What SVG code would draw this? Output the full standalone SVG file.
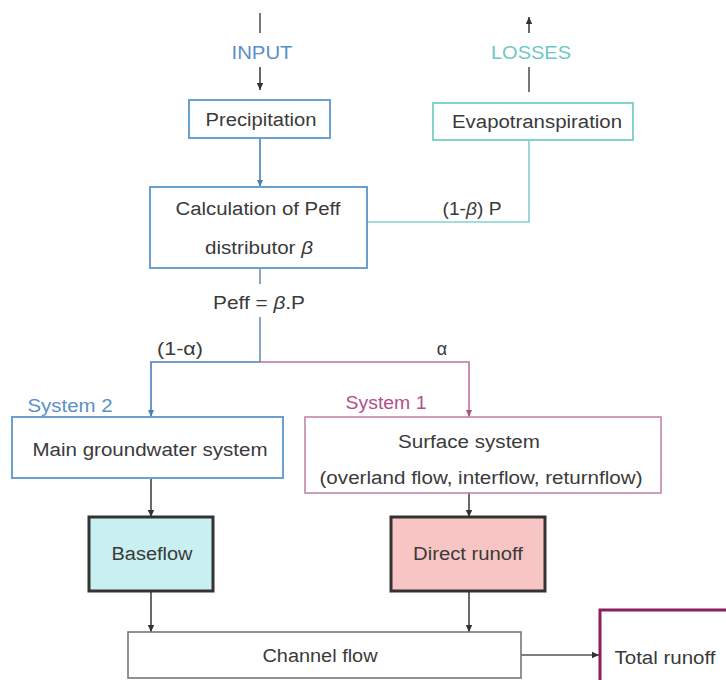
<svg xmlns="http://www.w3.org/2000/svg" width="726" height="680" viewBox="0 0 726 680">
<style>
text{font-family:"Liberation Sans",Arial,sans-serif;font-size:18px;fill:#3a3a3a;text-anchor:middle}
.box{fill:#fff}
.blue{stroke:#6a9fcf;stroke-width:2}
.teal{stroke:#84d2ca;stroke-width:2}
.pink{stroke:#c486aa;stroke-width:1.6}
.thick{stroke:#333;stroke-width:3}
.c{fill:none;stroke-width:1.6}
</style>
<defs>
<marker id="ad" markerUnits="userSpaceOnUse" markerWidth="8" markerHeight="8" refX="7" refY="4" orient="auto"><path d="M0,0.8 L7,4 L0,7.2 Z" fill="#333"/></marker>
<marker id="ab" markerUnits="userSpaceOnUse" markerWidth="8" markerHeight="8" refX="7" refY="4" orient="auto"><path d="M0,1 L7,4 L0,7 Z" fill="#4a7fb8"/></marker>
<marker id="ap" markerUnits="userSpaceOnUse" markerWidth="8" markerHeight="8" refX="7" refY="4" orient="auto"><path d="M0,1 L7,4 L0,7 Z" fill="#b0507f"/></marker>
</defs>
<rect width="726" height="680" fill="#fff"/>
<g id="connectors">
<line x1="260" y1="13" x2="260" y2="33" stroke="#555" class="c"/>
<line x1="260" y1="67" x2="260" y2="90" stroke="#444" class="c" marker-end="url(#ad)"/>
<line x1="529" y1="33" x2="529" y2="17" stroke="#444" class="c" stroke-width="2" marker-end="url(#ad)"/>
<line x1="529" y1="67" x2="529" y2="92" stroke="#555" class="c" stroke-width="2"/>
<line x1="260" y1="138" x2="260" y2="187" stroke="#4a7fb8" class="c" marker-end="url(#ab)"/>
<polyline points="529,140 529,222 367,222" stroke="#84d2ca" class="c" stroke-width="2"/>
<line x1="260" y1="268" x2="260" y2="284" stroke="#6a8fb8" class="c"/>
<line x1="260" y1="317" x2="260" y2="362" stroke="#6a8fb8" class="c"/>
<polyline points="260,362 151,362 151,417" stroke="#4a7fb8" class="c" marker-end="url(#ab)"/>
<polyline points="260,362 469,362 469,417" stroke="#c070a0" class="c" marker-end="url(#ap)"/>
<line x1="151" y1="478" x2="151" y2="517" stroke="#444" class="c" stroke-width="2" marker-end="url(#ad)"/>
<line x1="469" y1="493" x2="469" y2="517" stroke="#444" class="c" marker-end="url(#ad)"/>
<line x1="151" y1="591" x2="151" y2="632" stroke="#444" class="c" stroke-width="2" marker-end="url(#ad)"/>
<line x1="469" y1="591" x2="469" y2="632" stroke="#444" class="c" marker-end="url(#ad)"/>
<line x1="521" y1="655" x2="599" y2="655" stroke="#555" class="c" stroke-width="3" marker-end="url(#ad)"/>
</g>
<g id="labels">
<text x="262" y="59" textLength="61" lengthAdjust="spacingAndGlyphs" style="fill:#5a8fc8">INPUT</text>
<text x="531" y="59" textLength="80" lengthAdjust="spacingAndGlyphs" style="fill:#6cc8c4">LOSSES</text>
<text x="472" y="215" textLength="59" lengthAdjust="spacingAndGlyphs">(1-<tspan font-style="italic">β</tspan>) P</text>
<text x="259" y="309" textLength="92" lengthAdjust="spacingAndGlyphs">Peff = <tspan font-style="italic">β</tspan>.P</text>
<text x="180" y="355" textLength="46" lengthAdjust="spacingAndGlyphs">(1-α)</text>
<text x="442" y="355">α</text>
<text x="70" y="412" textLength="85" lengthAdjust="spacingAndGlyphs" style="fill:#5a8fc8">System 2</text>
<text x="386" y="409" textLength="81" lengthAdjust="spacingAndGlyphs" style="fill:#b0508f">System 1</text>
</g>
<g id="precipitation">
<rect class="box blue" x="189" y="100" width="141" height="38"/>
<text x="261" y="126" textLength="111" lengthAdjust="spacingAndGlyphs">Precipitation</text>
</g>
<g id="evapotranspiration">
<rect class="box teal" x="433" y="103" width="200" height="37"/>
<text x="537" y="128" textLength="170" lengthAdjust="spacingAndGlyphs">Evapotranspiration</text>
</g>
<g id="calculation">
<rect class="box blue" x="150" y="187" width="217" height="81"/>
<text x="258" y="215" textLength="165" lengthAdjust="spacingAndGlyphs">Calculation of Peff</text>
<text x="259" y="254" textLength="108" lengthAdjust="spacingAndGlyphs">distributor <tspan font-style="italic">β</tspan></text>
</g>
<g id="groundwater">
<rect class="box blue" x="12" y="417" width="271" height="61" stroke-width="1.6"/>
<text x="150" y="456" textLength="235" lengthAdjust="spacingAndGlyphs">Main groundwater system</text>
</g>
<g id="surface">
<rect class="box pink" x="305" y="417" width="356" height="76"/>
<text x="469" y="448" textLength="142" lengthAdjust="spacingAndGlyphs">Surface system</text>
<text x="481" y="484" textLength="323" lengthAdjust="spacingAndGlyphs">(overland flow, interflow, returnflow)</text>
</g>
<g id="baseflow">
<rect class="thick" x="89" y="517" width="124" height="74" fill="#c8f0f0"/>
<text x="152" y="560" textLength="81" lengthAdjust="spacingAndGlyphs">Baseflow</text>
</g>
<g id="directrunoff">
<rect class="thick" x="391" y="517" width="154" height="74" fill="#f7c6c4"/>
<text x="468" y="560" textLength="110" lengthAdjust="spacingAndGlyphs">Direct runoff</text>
</g>
<g id="channelflow">
<rect class="box" x="128" y="632" width="393" height="46" stroke="#777" stroke-width="1.6"/>
<text x="320" y="662" textLength="115" lengthAdjust="spacingAndGlyphs">Channel flow</text>
</g>
<g id="totalrunoff">
<rect class="box" x="600" y="610" width="140" height="90" stroke="#8b1f5c" stroke-width="3"/>
<text x="665" y="664" textLength="101" lengthAdjust="spacingAndGlyphs">Total runoff</text>
</g>
</svg>
